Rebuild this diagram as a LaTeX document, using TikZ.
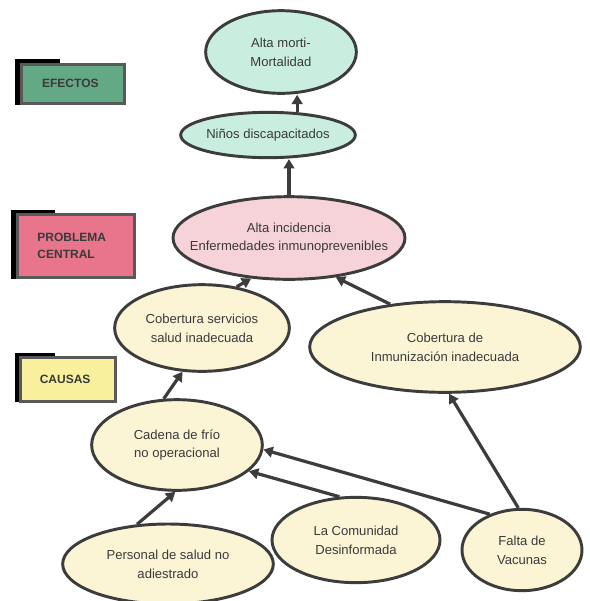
\documentclass[tikz,border=0pt]{standalone}
\usepackage{fontspec}
\setmainfont{Liberation Sans}
\usetikzlibrary{shapes.geometric,arrows.meta}
\definecolor{txt}{HTML}{3A3A3A}
\definecolor{edge}{HTML}{3C3C3C}
\definecolor{efill}{HTML}{C9EEDF}
\definecolor{pfill}{HTML}{F6D3D8}
\definecolor{cfill}{HTML}{FBF5D6}
\definecolor{efbox}{HTML}{64A985}
\definecolor{pbox}{HTML}{E8758B}
\definecolor{cbox}{HTML}{F8F09C}
\newcommand{\zl}[1]{\makebox[0pt][c]{#1}}
\tikzset{
  bub/.style={ellipse, draw=edge, line width=2.2pt, inner sep=0pt, align=center,
    text=txt, font=\fontsize{9.8}{14}\selectfont},
  eff/.style={bub, fill=efill},
  prob/.style={bub, fill=pfill},
  cau/.style={bub, fill=cfill},
  arr/.style={draw=edge, line width=2.4pt, -{Triangle[length=7pt,width=8pt]}},
  lab/.style={draw=gray!70!black, line width=2.2pt, inner sep=0pt, align=left,
    text=txt, font=\bfseries\fontsize{9}{13}\selectfont, anchor=north west}
}
\begin{document}
\begin{tikzpicture}[x=0.75pt,y=-0.75pt]
\useasboundingbox[fill=white] (0,0) rectangle (590,601);
% label boxes
\fill[black] (15,59) rectangle (60,105);
\node[lab, fill=efbox, minimum width=77pt, minimum height=29pt, text width=62pt] (efectos) at (20,63) {\hspace*{8pt}EFECTOS};
\fill[black] (11,210) rectangle (55,279);
\node[lab, fill=pbox, minimum width=88pt, minimum height=47pt, text width=74pt] (problema) at (16,213) {\hspace*{8pt}PROBLEMA\\\hspace*{8pt}CENTRAL};
\fill[black] (15,353) rectangle (55,402);
\node[lab, fill=cbox, minimum width=71pt, minimum height=33pt, text width=58pt] (causas) at (19,356) {\hspace*{8pt}CAUSAS};
% ellipses
\node[eff, minimum width=113pt, minimum height=62pt] (mort) at (281,52) {\zl{Alta morti-}\\\zl{Mortalidad}};
\node[eff, minimum width=131pt, minimum height=34pt] (ninos) at (268,135) {\zl{Niños discapacitados}};
\node[prob, minimum width=174pt, minimum height=62pt] (alta) at (289,238) {\zl{Alta incidencia}\\\zl{Enfermedades inmunoprevenibles}};
\node[cau, minimum width=131pt, minimum height=65pt] (cobserv) at (202,328) {\zl{Cobertura servicios}\\\zl{salud inadecuada}};
\node[cau, minimum width=203pt, minimum height=68pt] (inmun) at (445,347) {\zl{Cobertura de}\\\zl{Inmunización inadecuada}};
\node[cau, minimum width=128pt, minimum height=68pt] (cadena) at (177,445) {\zl{Cadena de frío}\\\zl{no operacional}};
\node[cau, minimum width=158pt, minimum height=60pt] (personal) at (168,564) {\zl{Personal de salud no}\\\zl{adiestrado}};
\node[cau, minimum width=126pt, minimum height=64pt] (comunidad) at (356,540) {\zl{La Comunidad}\\\zl{Desinformada}};
\node[cau, minimum width=90pt, minimum height=61pt] (falta) at (522,550) {\zl{Falta de}\\\zl{Vacunas}};
% arrows
\draw[arr] (ninos.38) -- (ninos.38 |- mort.south);
\draw[arr] (alta.north) -- (alta.north |- ninos.south);
\draw[arr] (cobserv.50) -- (alta.227);
\draw[arr] (inmun.142) -- (alta.320);
\draw[arr] (cadena.106) -- (cobserv.246);
\draw[arr] (personal.128) -- (cadena.268);
\draw[arr] (comunidad.111) -- (cadena.340);
\draw[arr] (falta.132) -- (cadena.357);
\draw[arr] (falta.95) -- (inmun.275);
\end{tikzpicture}
\end{document}
